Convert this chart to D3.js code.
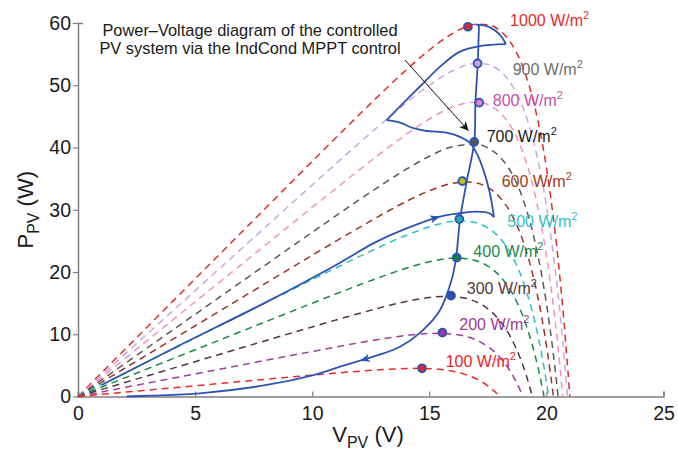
<!DOCTYPE html>
<html><head><meta charset="utf-8">
<script src="https://cdn.jsdelivr.net/npm/d3@7"></script>
<style>
body{margin:0;background:#fff}
svg{display:block}
text{font-family:"Liberation Sans",Arial,Helvetica,sans-serif}
</style>
</head><body>
<svg id="chart" width="678" height="454"></svg>
<script>
// ---------- data ----------
const vTicks = [0, 5, 10, 15, 20, 25];
const pTicks = [0, 10, 20, 30, 40, 50, 60];

const irradiance = [1000, 900, 800, 700, 600, 500, 400, 300, 200, 100];
const curveColors = ["#e52a2a", "#c9a9dd", "#f391c6", "#5a5a5a", "#9e3424", "#2cc2c9", "#168a41", "#56314f", "#a03a9e", "#ee2a2a"];
const labelColors = ["#e52a2a", "#6d6d6d", "#c64fa8", "#1a1a1a", "#a33a22", "#2ec4c9", "#1a8a4a", "#5b3a3a", "#9a3a9a", "#ee2222"];

// P-V curves, [V, P]
const pv1000 = [[0,0],[2,7.56],[4,15.12],[6,22.68],[8,30.23],[10,37.78],[12,45.25],[13,48.9],[14,52.42],[15,55.66],[16,58.32],[17,59.79],[17.5,59.73],[18,58.83],[18.5,56.72],[19,52.89],[19.5,46.59],[20,36.79],[20.5,21.97],[20.75,12.04],[21,0]];
const pv900 = [[0,0],[2,6.8],[4,13.6],[6,20.4],[8,27.2],[10,33.98],[12,40.69],[13,43.97],[14,47.12],[15,50.0],[16,52.33],[17,53.51],[17.5,53.33],[18,52.34],[18.5,50.2],[19,46.4],[19.5,40.23],[20,30.68],[20.5,16.31],[20.7,8.78],[20.9,0]];
const pv800 = [[0,0],[2,6.08],[4,12.16],[6,18.24],[8,24.32],[10,30.38],[12,36.37],[13,39.29],[14,42.07],[15,44.58],[16,46.52],[17,47.29],[17.5,46.9],[18,45.67],[18.5,43.27],[19,39.16],[19.5,32.65],[20,22.67],[20.3,14.44],[20.5,7.78],[20.7,0]];
const pv700 = [[0,0],[2,5.28],[4,10.56],[6,15.84],[8,21.12],[10,26.38],[12,31.57],[13,34.09],[14,36.47],[15,38.59],[16,40.14],[17,40.53],[17.5,39.95],[18,38.54],[18.5,35.97],[19,31.71],[19.5,25.05],[20,14.97],[20.25,8.21],[20.5,0]];
const pv600 = [[0,0],[2,4.54],[4,9.08],[6,13.62],[8,18.16],[10,22.68],[12,27.13],[13,29.28],[14,31.3],[15,33.06],[16,34.25],[16.5,34.48],[17,34.31],[17.5,33.58],[18,32.04],[18.5,29.35],[19,25.0],[19.5,18.3],[19.8,12.74],[20.05,6.99],[20.3,0]];
const pv500 = [[0,0],[2,3.76],[4,7.52],[6,11.28],[8,15.04],[10,18.78],[12,22.46],[13,24.23],[14,25.87],[15,27.26],[16,28.12],[16.5,28.21],[17,27.91],[17.5,27.09],[18,25.5],[18.5,22.81],[19,18.56],[19.5,12.09],[19.8,6.75],[20.1,0]];
const pv400 = [[0,0],[2,3.0],[4,6.0],[6,9.0],[8,12.0],[10,14.98],[12,17.91],[13,19.3],[14,20.59],[15,21.64],[16,22.22],[16.5,22.18],[17,21.81],[17.5,20.95],[18,19.39],[18.5,16.84],[19,12.86],[19.4,8.25],[19.65,4.52],[19.9,0]];
const pv300 = [[0,0],[2,2.24],[4,4.48],[6,6.72],[8,8.96],[10,11.18],[12,13.34],[13,14.36],[14,15.25],[15,15.91],[15.5,16.07],[16,16.06],[16.5,15.81],[17,15.2],[17.5,14.08],[18,12.23],[18.5,9.35],[18.9,6.0],[19.15,3.29],[19.4,0]];
const pv200 = [[0,0],[2,1.45],[4,2.9],[6,4.35],[8,5.8],[10,7.23],[12,8.62],[13,9.25],[14,9.79],[15,10.12],[15.5,10.15],[16,10.03],[16.5,9.7],[17,9.08],[17.5,8.02],[18,6.35],[18.5,3.8],[18.75,2.09],[19,0]];
const pv100 = [[0,0],[2,0.69],[4,1.38],[6,2.07],[8,2.76],[10,3.43],[12,4.06],[13,4.32],[14,4.49],[14.5,4.52],[15,4.47],[15.5,4.34],[16,4.06],[16.5,3.6],[17,2.85],[17.5,1.71],[17.75,0.94],[18,0]];
const pvCurves = [pv1000, pv900, pv800, pv700, pv600, pv500, pv400, pv300, pv200, pv100];

// MPP operating points
const mppV = [16.65, 17.06, 17.13, 16.92, 16.41, 16.28, 16.17, 15.93, 15.56, 14.69];
const mppP = [59.4, 53.5, 47.2, 40.9, 34.6, 28.5, 22.3, 16.2, 10.25, 4.53];
const mppFill = ["#e0262a", "#c8a8e0", "#f080c0", "#555555", "#c0c020", "#20b0b0", "#1a7a40", "#3050b0", "#9a3a9a", "#e8262a"];

// label anchor (start, baseline) in data units
const labelV = [18.45, 18.56, 17.71, 17.45, 18.09, 18.33, 16.88, 16.60, 16.28, 15.70];
const labelP = [59.5, 51.65, 46.67, 40.88, 33.65, 27.23, 22.46, 16.42, 10.68, 4.79];

// MPPT trajectory, piecewise
const trajRise = [[1.01,1.85],[4.36,8.27],[8.06,15.2],[11.19,21.5],[12.61,24.6],[14.03,27.0],[15.46,28.9],[16.24,29.4],[17.02,29.7],[17.59,29.4],[17.76,28.8]];
const trajBack = [[17.76,28.8],[17.59,32.6],[17.31,36.4],[17.02,39.1],[16.74,40.7],[16.31,41.7],[15.74,42.4],[14.89,42.65],[14.32,43.1],[13.75,44.0],[13.18,44.4]];
const trajUp = [[13.18,44.4],[13.75,46.6],[14.6,49.8],[15.46,53.0],[16.31,55.4],[17.16,56.3],[18.27,56.6]];
const trajTop = [[18.27,56.6],[18.02,58.1],[17.59,59.3],[17.16,59.7],[16.98,59.75]];
const trajDown = [[17.12,59.7],[17.07,53.6],[16.97,47.3],[16.92,40.9],[16.6,34.6],[16.31,28.35],[16.14,22.2],[15.95,18.7],[15.46,13.9],[14.74,10.7],[13.75,8.0],[12.61,6.4],[12.04,5.75],[11.19,4.79],[10.05,3.45],[8.06,1.85],[5.21,0.51],[3.07,0.13],[2.08,0]];
const trajSegments = [trajRise, trajBack, trajUp, trajTop, trajDown];
// arrowheads: [segment index, point index]
const trajArrows = [[0, 6], [4, 12]];

const titleLines = ["Power\u2013Voltage diagram of the controlled", "PV system via the IndCond MPPT control"];
// annotation arrow from/to in data units
const annotFrom = [13.96, 54.06];
const annotTo = [16.67, 42.7];

// ---------- drawing ----------
const svg = d3.select("#chart");
const x = d3.scaleLinear().domain([0, 25]).range([78, 663.5]);
const y = d3.scaleLinear().domain([0, 60]).range([396.5, 23]);

const blue = "#2c54b4";

// axes
const xAxis = svg.append("g").attr("transform", `translate(0,${y(0)})`)
  .call(d3.axisBottom(x).tickValues(vTicks).tickSizeInner(-5).tickSizeOuter(-5).tickPadding(10).tickFormat(d3.format("d")));
const yAxis = svg.append("g").attr("transform", `translate(${x(0)},0)`)
  .call(d3.axisLeft(y).tickValues(pTicks).tickSizeInner(5).tickSizeOuter(-5).tickPadding(2).tickFormat(d3.format("d")));
[xAxis, yAxis].forEach(g => {
  g.select(".domain").attr("stroke", "#808080").attr("stroke-width", 1.5);
  g.selectAll(".tick line").attr("stroke", "#808080").attr("stroke-width", 1.2);
  g.selectAll(".tick text").attr("fill", "#1a1a1a").style("font-size", "19.5px")
    .style("font-family", '"Liberation Sans",Arial,sans-serif');
});

// PV curves
const line = d3.line().x(d => x(d[0])).y(d => y(d[1])).curve(d3.curveMonotoneX);
svg.append("g").selectAll("path").data(pvCurves).join("path")
  .attr("d", line)
  .attr("fill", "none")
  .attr("stroke", (d, i) => curveColors[i])
  .attr("stroke-width", 1.5)
  .attr("stroke-dasharray", "7,5");

// trajectory
const tline = d3.line().x(d => x(d[0])).y(d => y(d[1])).curve(d3.curveCatmullRom.alpha(0.5));
svg.append("g").selectAll("path").data(trajSegments).join("path")
  .attr("d", tline)
  .attr("fill", "none")
  .attr("stroke", blue)
  .attr("stroke-width", 1.8)
  .attr("stroke-linejoin", "round");

// trajectory arrowheads
svg.append("g").selectAll("path").data(trajArrows).join("path")
  .attr("d", "M0,0 L-10,-4 L-7.5,0 L-10,4 Z")
  .attr("fill", blue)
  .attr("transform", d => {
    const seg = trajSegments[d[0]];
    const p = seg[d[1]], a = seg[d[1] - 1], b = seg[d[1] + 1];
    const ang = Math.atan2(y(b[1]) - y(a[1]), x(b[0]) - x(a[0])) * 180 / Math.PI;
    return `translate(${x(p[0])},${y(p[1])}) rotate(${ang})`;
  });

// MPP markers
svg.append("g").selectAll("circle").data(mppV).join("circle")
  .attr("cx", d => x(d))
  .attr("cy", (d, i) => y(mppP[i]))
  .attr("r", 3.9)
  .attr("fill", (d, i) => mppFill[i])
  .attr("stroke", blue)
  .attr("stroke-width", 1.9);

// irradiance labels
const lab = svg.append("g").selectAll("text").data(irradiance).join("text")
  .attr("x", (d, i) => x(labelV[i]))
  .attr("y", (d, i) => y(labelP[i]))
  .attr("fill", (d, i) => labelColors[i])
  .style("font-size", "16px");
lab.append("tspan").text(d => d + " W/m");
lab.append("tspan").attr("dy", -7).style("font-size", "11px").text("2");

// title annotation
svg.append("g").selectAll("text").data(titleLines).join("text")
  .attr("x", 250)
  .attr("y", (d, i) => 35.7 + i * 18.6)
  .attr("text-anchor", "middle")
  .attr("fill", "#1a1a1a")
  .style("font-size", "16.4px")
  .text(d => d);

// annotation arrow
svg.append("defs").append("marker")
  .attr("id", "ah").attr("viewBox", "0 0 10 10").attr("refX", 10).attr("refY", 5)
  .attr("markerWidth", 11).attr("markerHeight", 9).attr("markerUnits", "userSpaceOnUse")
  .attr("orient", "auto")
  .append("path").attr("d", "M0,0 L10,5 L0,10 L3,5 Z").attr("fill", "#111");
svg.append("line")
  .attr("x1", x(annotFrom[0])).attr("y1", y(annotFrom[1]))
  .attr("x2", x(annotTo[0])).attr("y2", y(annotTo[1]))
  .attr("stroke", "#111").attr("stroke-width", 1)
  .attr("marker-end", "url(#ah)");

// axis labels
const xl = svg.append("text").attr("x", 368).attr("y", 442).attr("text-anchor", "middle")
  .attr("fill", "#1a1a1a").style("font-size", "22px");
xl.append("tspan").text("V");
xl.append("tspan").attr("dy", 6).style("font-size", "16px").text("PV");
xl.append("tspan").attr("dy", -6).text(" (V)");

const yl = svg.append("text").attr("transform", `translate(33,${(y(0) + y(60)) / 2}) rotate(-90)`)
  .attr("text-anchor", "middle").attr("fill", "#1a1a1a").style("font-size", "22px");
yl.append("tspan").text("P");
yl.append("tspan").attr("dy", 6).style("font-size", "16px").text("PV");
yl.append("tspan").attr("dy", -6).text(" (W)");
</script>
</body></html>
